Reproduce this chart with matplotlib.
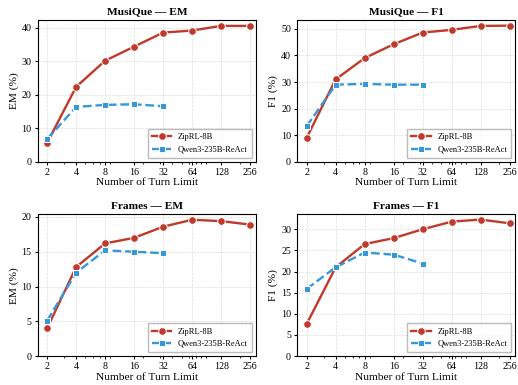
import numpy as np
import matplotlib.pyplot as plt
from matplotlib.ticker import MultipleLocator

plt.rcParams['font.family'] = ['Liberation Serif', 'DejaVu Serif']

turns = [2, 4, 8, 16, 32, 64, 128, 256]
turns_qwen = [2, 4, 8, 16, 32]
tick_labels = ["2", "4", "8", "16", "32", "64", "128", "256"]

musique_em_zip = [5.7, 22.4, 30.2, 34.4, 38.6, 39.2, 40.6, 40.6]
musique_em_qwen = [6.8, 16.4, 17.0, 17.2, 16.6]
musique_f1_zip = [9.0, 31.0, 39.0, 44.2, 48.6, 49.6, 51.1, 51.2]
musique_f1_qwen = [13.4, 29.0, 29.3, 29.0, 29.0]
frames_em_zip = [4.0, 12.8, 16.2, 17.0, 18.6, 19.6, 19.4, 18.9]
frames_em_qwen = [5.1, 12.0, 15.2, 15.0, 14.8]
frames_f1_zip = [7.6, 21.0, 26.5, 27.9, 30.0, 31.8, 32.3, 31.4]
frames_f1_qwen = [15.9, 21.0, 24.5, 24.0, 21.9]

RED = "#c0392b"
BLUE = "#3498db"

panels = [
    ("MusiQue — EM", "EM (%)", musique_em_zip, musique_em_qwen, 10),
    ("MusiQue — F1", "F1 (%)", musique_f1_zip, musique_f1_qwen, 10),
    ("Frames — EM", "EM (%)", frames_em_zip, frames_em_qwen, 5),
    ("Frames — F1", "F1 (%)", frames_f1_zip, frames_f1_qwen, 5),
]

fig, axes = plt.subplots(2, 2, figsize=(5.18, 3.85), dpi=100)
fig.subplots_adjust(left=0.073, right=0.995, top=0.948, bottom=0.075,
                    wspace=0.19, hspace=0.37)

for ax, (title, ylabel, zip_vals, qwen_vals, ystep) in zip(axes.flat, panels):
    ax.plot(turns, zip_vals, color=RED, lw=1.7, marker="o", ms=5.5,
            mec="white", mew=0.7, label="ZipRL-8B", zorder=3)
    ax.plot(turns_qwen, qwen_vals, color=BLUE, lw=1.7, ls="--", marker="s",
            ms=5, mec="white", mew=0.7, label="Qwen3-235B-ReAct", zorder=3)
    ax.set_xscale("log")
    ax.set_xticks(turns)
    ax.set_xticklabels(tick_labels)
    ax.set_xlim(1.6, 294)
    ax.set_ylim(bottom=0)
    ax.yaxis.set_major_locator(MultipleLocator(ystep))
    ax.set_title(title, fontsize=8.2, fontweight="bold", pad=4)
    ax.set_xlabel("Number of Turn Limit", fontsize=8.2, labelpad=1)
    ax.set_ylabel(ylabel, fontsize=8.2, labelpad=2)
    ax.tick_params(labelsize=7.2, length=2.5, pad=2)
    ax.tick_params(which="minor", length=1.5)
    ax.grid(True, which="major", ls="--", lw=0.5, color="#dddddd")
    ax.set_axisbelow(True)
    ax.legend(loc="lower right", fontsize=6, frameon=True, fancybox=False,
              edgecolor="#aaaaaa", handlelength=2.3, borderpad=0.5)

fig.savefig("out.png")
